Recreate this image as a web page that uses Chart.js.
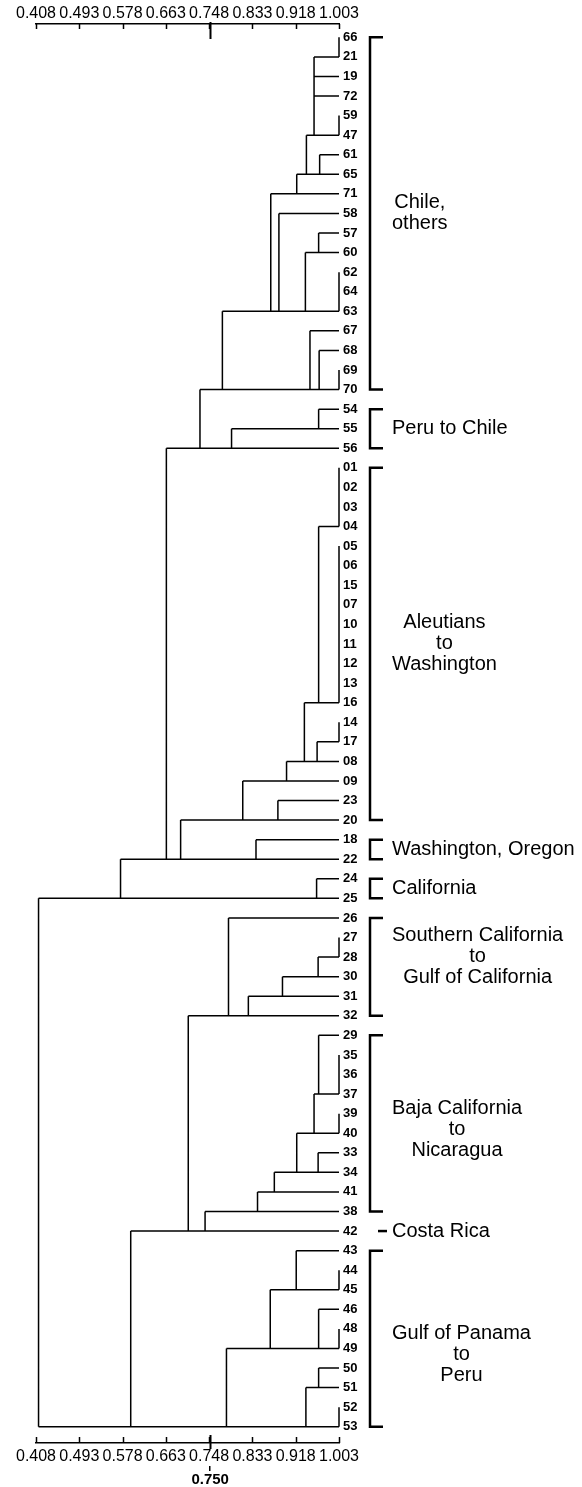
<!DOCTYPE html>
<html><head><meta charset="utf-8">
<script src="https://cdn.jsdelivr.net/npm/chart.js@4.4.0/dist/chart.umd.min.js"></script>
<style>html,body{margin:0;padding:0;background:#fff;}</style>
</head><body>
<canvas id="c" width="582" height="1487"></canvas>
<script>
// ---------- DATA ----------
const leaves = ["66","21","19","72","59","47","61","65","71","58","57","60","62","64","63","67","68","69","70",
  "54","55","56",
  "01","02","03","04","05","06","15","07","10","11","12","13","16","14","17","08","09","23","20",
  "18","22","24","25",
  "26","27","28","30","31","32",
  "29","35","36","37","39","40","33","34","41","38",
  "42",
  "43","44","45","46","48","49","50","51","52","53"];

const axisTicks = [0.408, 0.493, 0.578, 0.663, 0.748, 0.833, 0.918, 1.003];
const markerValue = 0.750;
const leafEnd = 1.003;

const mergeNames = ["m1","m2","m3","m4","m5","m6","m7","m8","m9","m10","m11","m12","m13","m14","m15","m16","m17","m18",
  "m19","m20","m21","m22","m23","m24","m25","m26","m27","m28","m29","m30","m31","m32",
  "m33","m34","m35","m36","m37","m38","m39","m40","m41","m42","m43","m44","m45","m46","m47",
  "m48","m49","m50","m51","m52","m53","m54","m55","m56","m57","m58"];
const mergeHeights = [1.003,1.003,0.954,0.965,0.939,0.920,0.963,1.003,0.937,0.885,0.869,1.003,0.964,0.946,0.774,0.963,0.792,0.730,
  1.003,1.003,0.963,1.003,0.960,0.935,0.900,0.883,0.814,0.840,0.692,0.664,0.959,0.574,
  1.003,0.962,0.892,0.825,0.786,1.003,0.963,1.003,0.954,0.962,0.920,0.876,0.843,0.740,0.707,
  1.003,0.919,1.003,0.963,0.868,0.963,1.003,0.938,0.782,0.594,0.413];
const mergeMembers = [
  ["66","21"],["59","47"],["m1","19","72","m2"],["61","65"],["m3","m4"],["m5","71"],["57","60"],["62","64","63"],
  ["m7","m8"],["58","m9"],["m6","m10"],["69","70"],["68","m12"],["67","m13"],["m11","m14"],
  ["54","55"],["m16","56"],["m15","m17"],
  ["01","02","03","04"],["05","06","15","07","10","11","12","13","16"],["m19","m20"],["14","17"],["m22","08"],
  ["m21","m23"],["m24","09"],["23","20"],["m25","m26"],["18","22"],["m27","m28"],["m18","m29"],["24","25"],["m30","m31"],
  ["27","28"],["m33","30"],["m34","31"],["m35","32"],["26","m36"],["35","36","37"],["29","m38"],["39","40"],
  ["m39","m40"],["33","34"],["m41","m42"],["m43","41"],["m44","38"],["m45","42"],["m37","m46"],
  ["44","45"],["43","m48"],["48","49"],["46","m50"],["m49","m51"],["50","51"],["52","53"],["m53","m54"],
  ["m52","m55"],["m47","m56"],["m32","m57"]];

const groupLines = [["Chile,","others"],["Peru to Chile"],["Aleutians","to","Washington"],["Washington, Oregon"],
  ["California"],["Southern California","to","Gulf of California"],["Baja California","to","Nicaragua"],
  ["Costa Rica"],["Gulf of Panama","to","Peru"]];
const groupFirst = ["66","54","01","18","24","26","29","42","43"];
const groupLast  = ["70","56","20","22","25","32","38","42","53"];

// ---------- STYLE ----------
const FONT = '"Liberation Sans", Arial, Helvetica, sans-serif';
const labelShift = [0,0,0,0,0,-10,6,0,16];

// ---------- BUILD SEGMENTS ----------
const nodeRow = {}, nodeHeight = {};
leaves.forEach((l,i)=>{ nodeRow[l]=i; nodeHeight[l]=leafEnd; });
const pts = [];
const GAP = {x:NaN, y:NaN};
mergeNames.forEach((n,k)=>{
  const h = mergeHeights[k], mem = mergeMembers[k];
  const rows = mem.map(m=>nodeRow[m]);
  pts.push({x:h,y:rows[0]},{x:h,y:rows[rows.length-1]},GAP);
  mem.forEach(m=>{
    if (nodeHeight[m] !== h) pts.push({x:h,y:nodeRow[m]},{x:nodeHeight[m],y:nodeRow[m]},GAP);
  });
  nodeRow[n] = rows[rows.length-1];
  nodeHeight[n] = h;
});

const decor = {
  id:'decor',
  afterDraw(chart){
    const ctx = chart.ctx, ca = chart.chartArea;
    const xs = chart.scales.x, ys = chart.scales.y;
    ctx.save();
    ctx.strokeStyle = '#000'; ctx.fillStyle = '#000';
    ctx.lineWidth = 1.5; ctx.lineCap = 'butt';
    // inward tick marks
    axisTicks.forEach(v=>{
      const px = Math.round(xs.getPixelForValue(v))+0.5;
      ctx.beginPath(); ctx.moveTo(px, ca.top); ctx.lineTo(px, ca.top+5); ctx.stroke();
      ctx.beginPath(); ctx.moveTo(px, ca.bottom); ctx.lineTo(px, ca.bottom-6); ctx.stroke();
    });
    const mp = Math.round(xs.getPixelForValue(markerValue))+0.5;
    ctx.lineWidth = 2;
    ctx.beginPath(); ctx.moveTo(mp, ca.top-2); ctx.lineTo(mp, ca.top+15); ctx.stroke();
    ctx.beginPath(); ctx.moveTo(mp, ca.bottom-8); ctx.lineTo(mp, ca.bottom+6); ctx.stroke();
    // brackets and group labels
    const bx = ca.right + 31, hook = 13, textLeft = ca.right + 53;
    ctx.font = '20px ' + FONT;
    ctx.textBaseline = 'middle'; ctx.textAlign = 'center';
    groupLines.forEach((lines,g)=>{
      const y1 = ys.getPixelForValue(leaves.indexOf(groupFirst[g]));
      const y2 = ys.getPixelForValue(leaves.indexOf(groupLast[g]));
      ctx.lineWidth = 2.5;
      if (y1 === y2) {
        ctx.beginPath(); ctx.moveTo(bx+8, y1); ctx.lineTo(bx+17, y1); ctx.stroke();
      } else {
        ctx.beginPath(); ctx.moveTo(bx+hook, y1); ctx.lineTo(bx, y1); ctx.lineTo(bx, y2); ctx.lineTo(bx+hook, y2); ctx.stroke();
      }
      const maxW = Math.max(...lines.map(t=>ctx.measureText(t).width));
      const cx = textLeft + maxW/2;
      const lh = 21;
      const cy = (y1+y2)/2 + labelShift[g];
      lines.forEach((t,i)=>{
        ctx.fillText(t, cx, cy + (i - (lines.length-1)/2)*lh);
      });
    });
    ctx.restore();
  }
};

const tickFmt = v => Number(v).toFixed(3);
new Chart(document.getElementById('c'), {
  type:'scatter',
  data:{ datasets:[{ data: pts, showLine:true, spanGaps:false, borderColor:'#000', borderWidth:1.5,
    pointRadius:0, pointHoverRadius:0, tension:0, clip:false }]},
  options:{
    responsive:false, animation:false, events:[],
    layout:{ padding:{left:36, right:0, top:0, bottom:0} },
    plugins:{ legend:{display:false}, tooltip:{enabled:false} },
    scales:{
      x:{ type:'linear', position:'top', min:0.408, max:1.003,
        afterBuildTicks: s=>{ s.ticks = axisTicks.map(v=>({value:v})); },
        afterFit: s=>{ s.height = 24; },
        grid:{display:false, drawTicks:false},
        border:{display:true, color:'#000', width:1.5},
        ticks:{ font:{size:16, family:FONT}, color:'#000', padding:0.5, maxRotation:0, autoSkip:false, callback:tickFmt } },
      x2:{ type:'linear', position:'bottom', min:0.408, max:1.003, weight:0,
        afterBuildTicks: s=>{ s.ticks = axisTicks.map(v=>({value:v})); },
        afterFit: s=>{ s.height = 23; },
        grid:{display:false, drawTicks:false},
        border:{display:true, color:'#000', width:1.5},
        ticks:{ font:{size:16, family:FONT}, color:'#000', padding:3.5, maxRotation:0, autoSkip:false, callback:tickFmt } },
      x3:{ type:'linear', position:'bottom', min:0.408, max:1.003, weight:1,
        afterBuildTicks: s=>{ s.ticks = [{value:markerValue}]; },
        afterFit: s=>{ s.height = 21; },
        grid:{display:true, drawOnChartArea:false, drawTicks:true, tickLength:5, color:'#000', lineWidth:1.5},
        border:{display:false},
        ticks:{ font:{size:15, family:FONT, weight:'bold'}, color:'#000', padding:0, maxRotation:0, autoSkip:false, callback:tickFmt } },
      y:{ type:'linear', position:'right', reverse:true, min:-0.68, max:71.83,
        afterBuildTicks: s=>{ s.ticks = leaves.map((_,i)=>({value:i})); },
        afterFit: s=>{ s.width = 243; },
        grid:{display:false, drawTicks:false},
        border:{display:false},
        ticks:{ font:{size:13, family:FONT, weight:'bold'}, color:'#000', padding:4, autoSkip:false, callback:(v)=>leaves[v] } }
    }
  },
  plugins:[decor]
});
</script>
</body></html>
